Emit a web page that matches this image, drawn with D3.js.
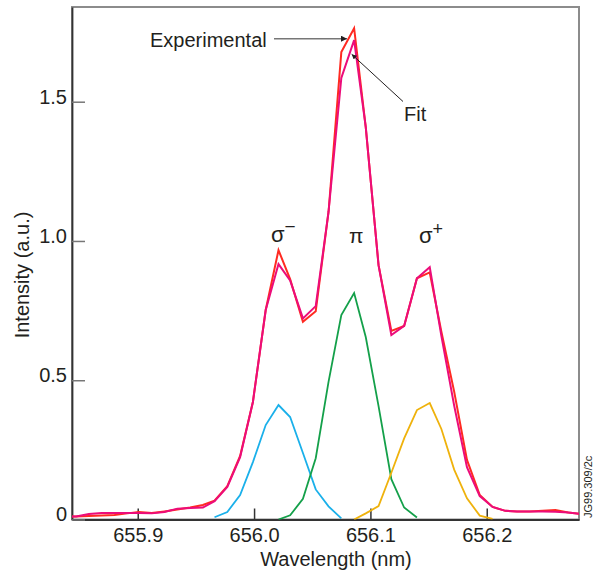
<!DOCTYPE html>
<html>
<head>
<meta charset="utf-8">
<script src="https://cdn.jsdelivr.net/npm/d3@7"></script>
<style>
  html, body { margin: 0; padding: 0; background: #fff; }
  svg text { font-family: "Liberation Sans", Arial, sans-serif; fill: #231f20; }
</style>
</head>
<body>
<svg id="chart" width="599" height="575"></svg>
<script>
// ---------------- data ----------------
const wavelength = [655.836, 655.847, 655.858, 655.869, 655.880, 655.891, 655.901, 655.912,
  655.923, 655.934, 655.945, 655.956, 655.966, 655.977, 655.988, 655.999, 656.010, 656.021,
  656.031, 656.042, 656.053, 656.064, 656.075, 656.086, 656.096, 656.107, 656.118, 656.129,
  656.140, 656.151, 656.161, 656.172, 656.183, 656.194, 656.205, 656.216, 656.226, 656.237,
  656.248, 656.259, 656.270, 656.281];

const experimental = [0.010, 0.011, 0.013, 0.014, 0.016, 0.022, 0.027, 0.023, 0.029, 0.036,
  0.043, 0.052, 0.068, 0.120, 0.228, 0.422, 0.752, 0.967, 0.863, 0.710, 0.748, 1.104, 1.678,
  1.764, 1.409, 0.913, 0.677, 0.695, 0.866, 0.887, 0.674, 0.459, 0.214, 0.088, 0.045, 0.031,
  0.029, 0.029, 0.031, 0.034, 0.025, 0.020];

const fit = [0.010, 0.011, 0.020, 0.023, 0.023, 0.023, 0.023, 0.022, 0.027, 0.039, 0.041,
  0.043, 0.066, 0.117, 0.224, 0.422, 0.752, 0.917, 0.858, 0.722, 0.766, 1.104, 1.585, 1.721,
  1.409, 0.913, 0.662, 0.695, 0.866, 0.906, 0.659, 0.409, 0.188, 0.084, 0.045, 0.031, 0.029,
  0.029, 0.029, 0.028, 0.025, 0.020];

const sigmaMinus = [null, null, null, null, null, null, null, null, null, null, null, null,
  0.008, 0.027, 0.088, 0.206, 0.339, 0.411, 0.368, 0.239, 0.108, 0.047, 0.004,
  null, null, null, null, null, null, null, null, null, null, null, null, null, null, null,
  null, null, null, null];

const pi = [null, null, null, null, null, null, null, null, null, null, null, null, null,
  null, null, null, null, 0.000, 0.015, 0.074, 0.220, 0.494, 0.734, 0.813, 0.655, 0.407,
  0.145, 0.043, 0.007, null, null, null, null, null, null, null, null, null, null, null,
  null, null];

const sigmaPlus = [null, null, null, null, null, null, null, null, null, null, null, null,
  null, null, null, null, null, null, null, null, null, null, null, 0.000, 0.022, 0.048,
  0.168, 0.291, 0.393, 0.418, 0.325, 0.179, 0.076, 0.014, 0.002, null, null, null, null,
  null, null, null];

const xTicks = [655.9, 656.0, 656.1, 656.2];
const xTickLabels = ["655.9", "656.0", "656.1", "656.2"];
const yTicks = [0, 0.5, 1.0, 1.5];
const yTickLabels = ["0", "0.5", "1.0", "1.5"];

// ---------------- layout ----------------
const L = 72, R = 579, T = 7, B = 519.5;
const svg = d3.select("#chart");

const x = d3.scaleLinear().domain([655.8435, 656.2793]).range([L, R]);
const y = d3.scaleLinear().domain([0, 1.84]).range([B, T]);

svg.append("defs").append("clipPath").attr("id", "plotclip")
  .append("rect").attr("x", L).attr("y", T).attr("width", R - L).attr("height", B - T);

const defs = svg.select("defs");
defs.append("marker").attr("id", "arrowA").attr("viewBox", "0 0 10 10")
  .attr("refX", 10).attr("refY", 5).attr("markerWidth", 9).attr("markerHeight", 6)
  .attr("markerUnits", "userSpaceOnUse").attr("orient", "auto")
  .append("path").attr("d", "M0,0 L10,5 L0,10 Z").attr("fill", "#231f20");
defs.append("marker").attr("id", "arrowB").attr("viewBox", "0 0 10 10")
  .attr("refX", 10).attr("refY", 5).attr("markerWidth", 8).attr("markerHeight", 5)
  .attr("markerUnits", "userSpaceOnUse").attr("orient", "auto")
  .append("path").attr("d", "M0,0 L10,5 L0,10 Z").attr("fill", "#231f20");

// frame
svg.append("rect").attr("x", L).attr("y", T).attr("width", R - L).attr("height", B - T)
  .attr("fill", "none").attr("stroke", "#8c8c8c").attr("stroke-width", 2);

// axes
const xAxis = d3.axisBottom(x).tickValues(xTicks)
  .tickFormat((d, i) => xTickLabels[i]).tickSizeInner(-11).tickSizeOuter(0).tickPadding(8);
const gx = svg.append("g").attr("transform", `translate(0,${B})`).call(xAxis);
gx.select(".domain").attr("stroke", "#333").attr("stroke-width", 1.8);
gx.selectAll(".tick line").attr("stroke", "#333").attr("stroke-width", 1.5);
gx.selectAll(".tick text").attr("font-size", 20).attr("fill", "#231f20");

const yAxis = d3.axisLeft(y).tickValues(yTicks)
  .tickFormat((d, i) => yTickLabels[i]).tickSizeInner(-13).tickSizeOuter(0).tickPadding(5);
const gy = svg.append("g").attr("transform", `translate(${L},0)`).call(yAxis);
gy.select(".domain").attr("stroke", "#333").attr("stroke-width", 1.8);
gy.selectAll(".tick line").attr("stroke", "#777").attr("stroke-width", 1.5);
gy.selectAll(".tick text").attr("font-size", 20).attr("fill", "#231f20").attr("y", -5);

// lines
const rows = wavelength.map((w, i) => ({
  w, exp: experimental[i], fit: fit[i], sm: sigmaMinus[i], pi: pi[i], sp: sigmaPlus[i]
}));
const plot = svg.append("g").attr("clip-path", "url(#plotclip)");
function drawLine(key, color, width) {
  const line = d3.line().defined(d => d[key] !== null && d[key] !== undefined)
    .x(d => x(d.w)).y(d => y(d[key]));
  plot.append("path").datum(rows).attr("d", line).attr("fill", "none")
    .attr("stroke", color).attr("stroke-width", width).attr("stroke-linejoin", "miter");
}
drawLine("sm", "#1ab0ea", 1.8);
drawLine("pi", "#14a04a", 1.8);
drawLine("sp", "#efb20c", 1.8);
drawLine("exp", "#ff2a22", 2);
drawLine("fit", "#ec0c7a", 2);

// axis titles
svg.append("text").attr("x", 336).attr("y", 566).attr("text-anchor", "middle")
  .attr("font-size", 20).text("Wavelength (nm)");
svg.append("text").attr("transform", "translate(29,275) rotate(-90)").attr("text-anchor", "middle")
  .attr("font-size", 20).text("Intensity (a.u.)");

// annotations
svg.append("text").attr("x", 150).attr("y", 47).attr("font-size", 20).text("Experimental");
svg.append("line").attr("x1", 274).attr("y1", 38.7).attr("x2", 347).attr("y2", 38.7)
  .attr("stroke", "#777").attr("stroke-width", 1.5).attr("marker-end", "url(#arrowA)");
svg.append("text").attr("x", 404).attr("y", 121).attr("font-size", 20).text("Fit");
svg.append("line").attr("x1", 403).attr("y1", 101.5).attr("x2", 351.7).attr("y2", 54.3)
  .attr("stroke", "#231f20").attr("stroke-width", 1).attr("marker-end", "url(#arrowB)");

// component labels
const sm = svg.append("text").attr("x", 271).attr("y", 242).attr("font-size", 22);
sm.append("tspan").text("σ");
sm.append("tspan").attr("dy", -9).attr("font-size", 19).text("−");
svg.append("text").attr("x", 349).attr("y", 243).attr("font-size", 21).text("π");
const sp = svg.append("text").attr("x", 419).attr("y", 243).attr("font-size", 22);
sp.append("tspan").text("σ");
sp.append("tspan").attr("dy", -8).attr("font-size", 18).text("+");

// figure code
svg.append("text").attr("transform", "translate(592,518) rotate(-90)").attr("text-anchor", "start")
  .attr("font-size", 11).text("JG99.309/2c");
</script>
</body>
</html>
